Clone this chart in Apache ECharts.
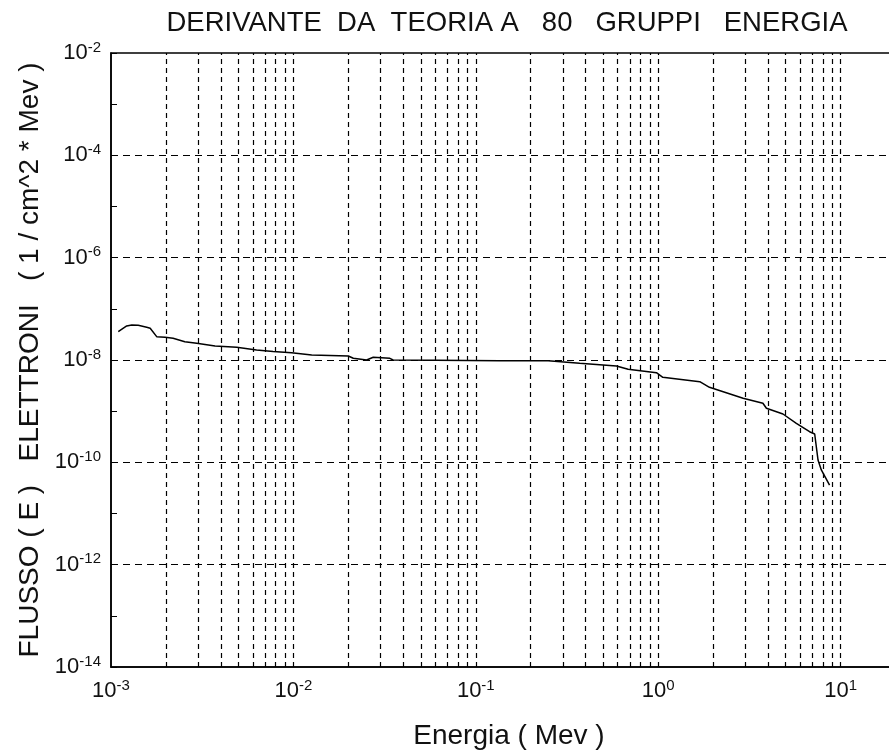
<!DOCTYPE html>
<html>
<head>
<meta charset="utf-8">
<script src="https://cdn.jsdelivr.net/npm/echarts@6/dist/echarts.min.js"></script>
<style>html,body{margin:0;padding:0;background:#fff;overflow:hidden;}#c{width:889px;height:753px;}</style>
</head>
<body>
<div id="c"></div>
<script>
var energy = [1.096e-3, 1.219e-3, 1.30e-3, 1.41e-3, 1.57e-3, 1.64e-3, 1.78e-3, 1.98e-3, 2.19e-3, 2.54e-3, 2.95e-3, 3.72e-3, 4.89e-3, 6.28e-3, 7.74e-3, 9.77e-3, 1.26e-2, 2.0e-2, 2.13e-2, 2.52e-2, 2.74e-2, 3.38e-2, 3.52e-2, 0.06, 0.1355, 0.249, 0.371, 0.590, 0.684, 0.978, 1.06, 1.69, 1.91, 2.92, 3.75, 3.92, 4.83, 5.72, 6.76, 7.21, 7.52, 7.84, 8.7];
var flux = [3.58e-8, 4.62e-8, 4.83e-8, 4.77e-8, 4.36e-8, 4.17e-8, 2.86e-8, 2.78e-8, 2.66e-8, 2.28e-8, 2.12e-8, 1.88e-8, 1.77e-8, 1.57e-8, 1.46e-8, 1.39e-8, 1.25e-8, 1.20e-8, 1.08e-8, 1.0e-8, 1.13e-8, 1.08e-8, 1.0e-8, 9.9e-9, 9.7e-9, 9.7e-9, 8.63e-9, 7.64e-9, 6.59e-9, 5.65e-9, 4.59e-9, 3.77e-9, 2.93e-9, 1.79e-9, 1.43e-9, 1.14e-9, 8.8e-10, 5.8e-10, 3.97e-10, 3.58e-10, 1.11e-10, 7.1e-11, 3.6e-11];
var xGridLines = [0.002,0.003,0.004,0.005,0.006,0.007,0.008,0.009,0.01,
                  0.02,0.03,0.04,0.05,0.06,0.07,0.08,0.09,0.1,
                  0.2,0.3,0.4,0.5,0.6,0.7,0.8,0.9,1,
                  2,3,4,5,6,7,8,9,10];
var yGridLines = [1e-4, 1e-6, 1e-8, 1e-10, 1e-12];
var xRange = [0.001, 100];
var yRange = [1e-14, 1e-2];
var titleText = 'DERIVANTE  DA  TEORIA A   80   GRUPPI   ENERGIA';
var xName = 'Energia ( Mev )';
var yName = 'FLUSSO ( E )   ELETTRONI   ( 1 / cm^2 * Mev )';

var FONT = 'Liberation Sans';
function expLabel(v) {
  var e = Math.round(Math.log10(v));
  return '{b|10}{s|' + e + '}';
}
var rich = {
  b: {fontSize: 22, fontFamily: FONT, color: '#111', lineHeight: 26},
  s: {fontSize: 15, fontFamily: FONT, color: '#111', verticalAlign: 'top', lineHeight: 15}
};

var pts = energy.map(function (e, i) { return [e, flux[i]]; });
var mlData = [];
xGridLines.forEach(function (v) {
  mlData.push([{coord: [v, yRange[0]], lineStyle: {type: [5, 4]}}, {coord: [v, yRange[1]]}]);
});
yGridLines.forEach(function (v) {
  mlData.push([{coord: [xRange[0], v], lineStyle: {type: [7, 5]}}, {coord: [xRange[1], v]}]);
});

var chart = echarts.init(document.getElementById('c'), null, {renderer: 'canvas'});
chart.setOption({
  animation: false,
  backgroundColor: '#fff',
  title: {
    text: titleText,
    left: 502, top: 4, textAlign: 'center',
    textStyle: {fontFamily: FONT, fontSize: 27.5, fontWeight: 'normal', color: '#111'}
  },
  grid: {
    left: 111, top: 53, width: 912, bottom: 86,
    outerBoundsMode: 'none', containLabel: false,
    show: true, borderColor: '#000', borderWidth: 1.5, backgroundColor: 'transparent'
  },
  xAxis: {
    type: 'log', logBase: 10, min: xRange[0], max: xRange[1], interval: 1,
    name: xName, nameLocation: 'middle', nameGap: 55,
    nameTextStyle: {fontFamily: FONT, fontSize: 28, color: '#111', padding: [0, 116, 0, 0]},
    axisLine: {show: true, lineStyle: {color: '#000', width: 1.5}},
    axisTick: {show: false},
    splitLine: {show: false},
    axisLabel: {formatter: expLabel, rich: rich, margin: 11}
  },
  yAxis: {
    type: 'log', logBase: 10, min: yRange[0], max: yRange[1], interval: 1,
    name: yName, nameLocation: 'middle', nameGap: 66, nameRotate: 90,
    nameTextStyle: {fontFamily: FONT, fontSize: 28, color: '#111'},
    axisLine: {show: true, lineStyle: {color: '#000', width: 1.5}},
    axisTick: {show: true, inside: true, length: 6, lineStyle: {color: '#000'}},
    splitLine: {show: false},
    axisLabel: {
      formatter: function (v) {
        var e = Math.round(Math.log10(v));
        if (e % 2 !== 0) return '';
        return expLabel(v);
      },
      rich: rich, margin: 10
    }
  },
  series: [{
    type: 'line',
    data: pts,
    showSymbol: false,
    lineStyle: {color: '#000', width: 1.5},
    markLine: {
      silent: true, symbol: 'none', animation: false,
      label: {show: false},
      lineStyle: {color: '#000', width: 1.2, type: [5, 4]},
      data: mlData
    }
  }]
});
</script>
</body>
</html>
